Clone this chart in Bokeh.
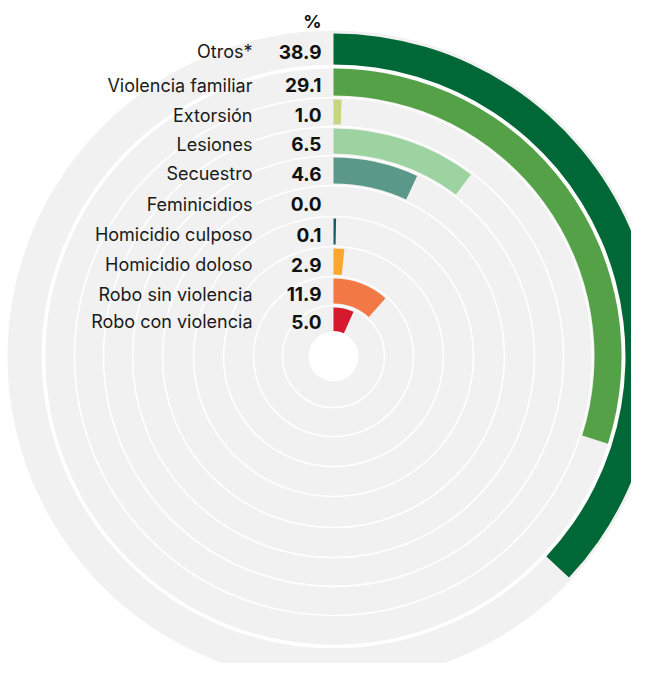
import math
from bokeh.plotting import figure
from bokeh.models import Range1d, ColumnDataSource
from bokeh.core.properties import value
from bokeh.embed import file_html
from bokeh.resources import INLINE

# ---- data (outermost ring first) ----
categorias = ["Otros*", "Violencia familiar", "Extorsión", "Lesiones", "Secuestro",
              "Feminicidios", "Homicidio culposo", "Homicidio doloso",
              "Robo sin violencia", "Robo con violencia"]
porcentajes = [38.9, 29.1, 1.0, 6.5, 4.6, 0.0, 0.1, 2.9, 11.9, 5.0]
# share of the full circle covered by each bar (%)
arco_pct = [37.0, 29.9, 0.5, 10.3, 6.9, 0.0, 0.3, 1.6, 11.6, 6.7]
colores = ["#006837", "#55a147", "#c5d67f", "#9cd3a0", "#5a988a",
           "#1f5c6e", "#1b5a6b", "#f9a82c", "#f27845", "#d7192e"]
titulo_valores = "%"

# ---- layout ----
W, H = 631, 663
cx = 333
cy = 679 - 356
bounds = [25, 51, 80, 110, 140, 171, 201, 230, 259, 290, 326]  # ring radii, inside -> out
n = len(categorias)

p = figure(width=W, height=H, output_backend="svg", toolbar_location=None,
           x_range=Range1d(0, W), y_range=Range1d(679 - H, 679),
           min_border=0, outline_line_color=None, background_fill_color="white")
p.axis.visible = False
p.grid.visible = False

# background disk
p.circle(x=[cx], y=[cy], radius=bounds[-1], fill_color="#f1f1f1", line_color=None)
# ring separators
sep_r = bounds[1:-1]
sep_w = [1.6] * len(sep_r)
sep_w[-1] = 3.6
p.circle(x=[cx] * len(sep_r), y=[cy] * len(sep_r), radius=sep_r,
         fill_color=None, line_color="white", line_width=sep_w)

# bars
rows = dict(inner=[], outer=[], start=[], end=[], color=[])
for i in range(n):
    if arco_pct[i] <= 0:
        continue
    k = n - 1 - i
    r_in, r_out = bounds[k], bounds[k + 1]
    inset_in = 2 if k > 0 else 0.5
    inset_out = 3 if i == 0 else 2
    rows["inner"].append(r_in + inset_in)
    rows["outer"].append(r_out - inset_out)
    rows["start"].append(math.pi / 2 - 2 * math.pi * arco_pct[i] / 100.0)
    rows["end"].append(math.pi / 2)
    rows["color"].append(colores[i])
src = ColumnDataSource(rows)
p.annular_wedge(x=cx, y=cy, inner_radius="inner", outer_radius="outer",
                start_angle="start", end_angle="end", fill_color="color",
                line_color=None, source=src)

# centre hole
p.circle(x=[cx], y=[cy], radius=bounds[0], fill_color="white", line_color=None)

# labels
ys = []
for i in range(n):
    k = n - 1 - i
    rc = (bounds[k] + bounds[k + 1]) / 2.0
    ys.append(cy + rc - 3)
lab = ColumnDataSource(dict(y=ys, name=categorias,
                            val=["%.1f" % v for v in porcentajes]))
p.text(x=252, y="y", text="name", source=lab, text_align="right",
       text_baseline="middle", text_font=value("Inter"), text_font_size="18px",
       text_color="#1a1a1a")
p.text(x=321, y="y", text="val", source=lab, text_align="right",
       text_baseline="middle", text_font=value("Inter"), text_font_size="19px",
       text_font_style="bold", text_color="#111111")
p.text(x=[321], y=[679 - 21], text=[titulo_valores], text_align="right",
       text_baseline="middle", text_font=value("Inter"), text_font_size="18px",
       text_font_style="bold", text_color="#111111")

open("out.html", "w").write(file_html(p, INLINE))
